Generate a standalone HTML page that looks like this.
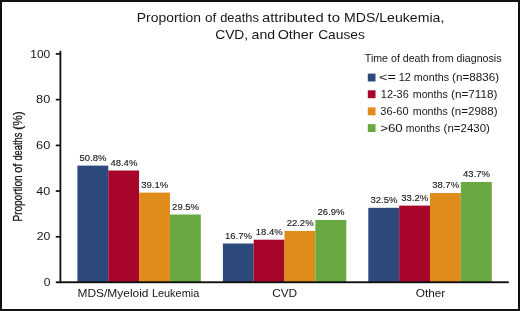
<!DOCTYPE html>
<html>
<head>
<meta charset="utf-8">
<title>Proportion of deaths attributed to MDS/Leukemia, CVD, and Other Causes</title>
<style>
html,body{margin:0;padding:0;background:#fff;}
body{width:520px;height:311px;overflow:hidden;position:relative;font-family:"Liberation Sans",sans-serif;}
svg{position:absolute;left:0;top:0;display:block;will-change:transform;}
text{font-family:"Liberation Sans",sans-serif;fill:#171717;}
#txt{filter:grayscale(1);}
</style>
</head>
<body>
<svg width="520" height="311" viewBox="0 0 520 311">
<rect x="0" y="0" width="520" height="311" fill="#ffffff"/>
<rect x="1" y="1" width="518" height="309" fill="none" stroke="#111111" stroke-width="2"/>

<g>
<rect x="77.40" y="165.60" width="30.85" height="116.40" fill="#2e4a7d"/>
<rect x="108.25" y="170.50" width="30.85" height="111.50" fill="#a8052b"/>
<rect x="139.10" y="192.60" width="30.85" height="89.40" fill="#df8c1a"/>
<rect x="169.95" y="214.50" width="30.85" height="67.50" fill="#68aa41"/>
<rect x="222.90" y="243.50" width="30.80" height="38.50" fill="#2e4a7d"/>
<rect x="253.70" y="239.70" width="30.80" height="42.30" fill="#a8052b"/>
<rect x="284.50" y="231.00" width="30.85" height="51.00" fill="#df8c1a"/>
<rect x="315.35" y="220.00" width="30.95" height="62.00" fill="#68aa41"/>
<rect x="368.30" y="207.80" width="30.85" height="74.20" fill="#2e4a7d"/>
<rect x="399.15" y="205.60" width="30.85" height="76.40" fill="#a8052b"/>
<rect x="430.00" y="193.00" width="30.85" height="89.00" fill="#df8c1a"/>
<rect x="460.85" y="182.00" width="30.95" height="100.00" fill="#68aa41"/>
</g>
<g fill="#111111">
<rect x="59.5" y="50.7" width="1.8" height="232.5"/>
<rect x="55.8" y="281.3" width="453" height="1.9"/>
<rect x="55.8" y="53.05" width="4.5" height="1.7"/>
<rect x="55.8" y="98.80" width="4.5" height="1.7"/>
<rect x="55.8" y="144.55" width="4.5" height="1.7"/>
<rect x="55.8" y="190.15" width="4.5" height="1.7"/>
<rect x="55.8" y="235.95" width="4.5" height="1.7"/>
</g>
<g id="txt">
<text transform="translate(136.84,21.90) scale(1.0526,1)" font-size="13.2">Proportion</text>
<text transform="translate(204.88,21.90) scale(1.0288,1)" font-size="13.2">of</text>
<text transform="translate(220.21,21.90) scale(0.9766,1)" font-size="13.2">deaths</text>
<text transform="translate(262.03,21.90) scale(1.1196,1)" font-size="13.2">attributed</text>
<text transform="translate(327.57,21.90) scale(1.1262,1)" font-size="13.2">to</text>
<text transform="translate(344.02,21.90) scale(1.0689,1)" font-size="13.2">MDS/Leukemia,</text>
<text transform="translate(215.17,39.30) scale(1.0473,1)" font-size="13.2">CVD,</text>
<text transform="translate(251.56,39.30) scale(1.0680,1)" font-size="13.2">and</text>
<text transform="translate(277.65,39.30) scale(1.0901,1)" font-size="13.2">Other</text>
<text transform="translate(318.17,39.30) scale(1.0437,1)" font-size="13.2">Causes</text>
<text transform="translate(30.32,57.60) scale(1.0941,1)" font-size="10.9">100</text>
<text transform="translate(36.12,103.30) scale(1.1696,1)" font-size="10.9">80</text>
<text transform="translate(35.99,149.20) scale(1.1802,1)" font-size="10.9">60</text>
<text transform="translate(36.36,194.60) scale(1.1491,1)" font-size="10.9">40</text>
<text transform="translate(36.64,240.20) scale(1.1250,1)" font-size="10.9">20</text>
<text transform="translate(43.75,285.80) scale(1.1154,1)" font-size="10.9">0</text>
<g transform="translate(21.6,220.7) rotate(-90)">
<text transform="translate(-0.85,0.00) scale(0.7707,1)" font-size="13.0" stroke="#171717" stroke-width="0.3">Proportion</text>
<text transform="translate(47.88,0.00) scale(0.8462,1)" font-size="13.0" stroke="#171717" stroke-width="0.3">of</text>
<text transform="translate(60.14,0.00) scale(0.7158,1)" font-size="13.0" stroke="#171717" stroke-width="0.3">deaths</text>
<text transform="translate(90.97,0.00) scale(0.9086,1)" font-size="13.0" stroke="#171717" stroke-width="0.3">(%)</text>
</g>
<text transform="translate(93.03,160.95) scale(1.0,1)" font-size="9.5" text-anchor="middle" stroke="#171717" stroke-width="0.12">50.8%</text>
<text transform="translate(123.88,165.85) scale(1.0,1)" font-size="9.5" text-anchor="middle" stroke="#171717" stroke-width="0.12">48.4%</text>
<text transform="translate(154.72,187.95) scale(1.0,1)" font-size="9.5" text-anchor="middle" stroke="#171717" stroke-width="0.12">39.1%</text>
<text transform="translate(185.57,209.85) scale(1.0,1)" font-size="9.5" text-anchor="middle" stroke="#171717" stroke-width="0.12">29.5%</text>
<text transform="translate(238.50,238.85) scale(1.0,1)" font-size="9.5" text-anchor="middle" stroke="#171717" stroke-width="0.12">16.7%</text>
<text transform="translate(269.30,235.05) scale(1.0,1)" font-size="9.5" text-anchor="middle" stroke="#171717" stroke-width="0.12">18.4%</text>
<text transform="translate(300.12,226.35) scale(1.0,1)" font-size="9.5" text-anchor="middle" stroke="#171717" stroke-width="0.12">22.2%</text>
<text transform="translate(331.03,215.35) scale(1.0,1)" font-size="9.5" text-anchor="middle" stroke="#171717" stroke-width="0.12">26.9%</text>
<text transform="translate(383.93,203.15) scale(1.0,1)" font-size="9.5" text-anchor="middle" stroke="#171717" stroke-width="0.12">32.5%</text>
<text transform="translate(414.77,200.95) scale(1.0,1)" font-size="9.5" text-anchor="middle" stroke="#171717" stroke-width="0.12">33.2%</text>
<text transform="translate(445.62,188.35) scale(1.0,1)" font-size="9.5" text-anchor="middle" stroke="#171717" stroke-width="0.12">38.7%</text>
<text transform="translate(476.53,177.35) scale(1.0,1)" font-size="9.5" text-anchor="middle" stroke="#171717" stroke-width="0.12">43.7%</text>
<text transform="translate(77.54,297.20) scale(1.0663,1)" font-size="11.2">MDS/Myeloid</text>
<text transform="translate(151.92,297.20) scale(0.9748,1)" font-size="11.2">Leukemia</text>
<text transform="translate(272.17,297.20) scale(1.0578,1)" font-size="11.2">CVD</text>
<text transform="translate(415.67,297.20) scale(1.0586,1)" font-size="11.2">Other</text>
<text transform="translate(364.79,62.30) scale(1.0641,1)" font-size="10.0">Time of death from diagnosis</text>
<text transform="translate(378.98,80.80) scale(1.4486,1)" font-size="10.0">&lt;=</text>
<text transform="translate(398.72,80.80) scale(1.1020,1)" font-size="10.0">12</text>
<text transform="translate(413.85,80.80) scale(1.0726,1)" font-size="10.0">months</text>
<text transform="translate(452.10,80.80) scale(1.1688,1)" font-size="10.0">(n=8836)</text>
<text transform="translate(380.83,97.80) scale(1.0905,1)" font-size="10.0">12-36</text>
<text transform="translate(412.75,97.80) scale(1.0694,1)" font-size="10.0">months</text>
<text transform="translate(451.00,97.80) scale(1.1723,1)" font-size="10.0">(n=7118)</text>
<text transform="translate(380.36,114.90) scale(1.1048,1)" font-size="10.0">36-60</text>
<text transform="translate(412.75,114.90) scale(1.0694,1)" font-size="10.0">months</text>
<text transform="translate(451.01,114.90) scale(1.1560,1)" font-size="10.0">(n=2988)</text>
<text transform="translate(380.13,131.60) scale(1.3354,1)" font-size="10.0">&gt;60</text>
<text transform="translate(405.87,131.60) scale(1.0442,1)" font-size="10.0">months</text>
<text transform="translate(443.61,131.60) scale(1.1483,1)" font-size="10.0">(n=2430)</text>
</g>
<rect x="367.8" y="73.60" width="7.7" height="7.9" fill="#2e4a7d"/>
<rect x="367.8" y="90.30" width="7.7" height="7.9" fill="#a8052b"/>
<rect x="367.8" y="107.40" width="7.7" height="7.9" fill="#df8c1a"/>
<rect x="367.8" y="124.10" width="7.7" height="7.9" fill="#68aa41"/>
</svg>
</body>
</html>
